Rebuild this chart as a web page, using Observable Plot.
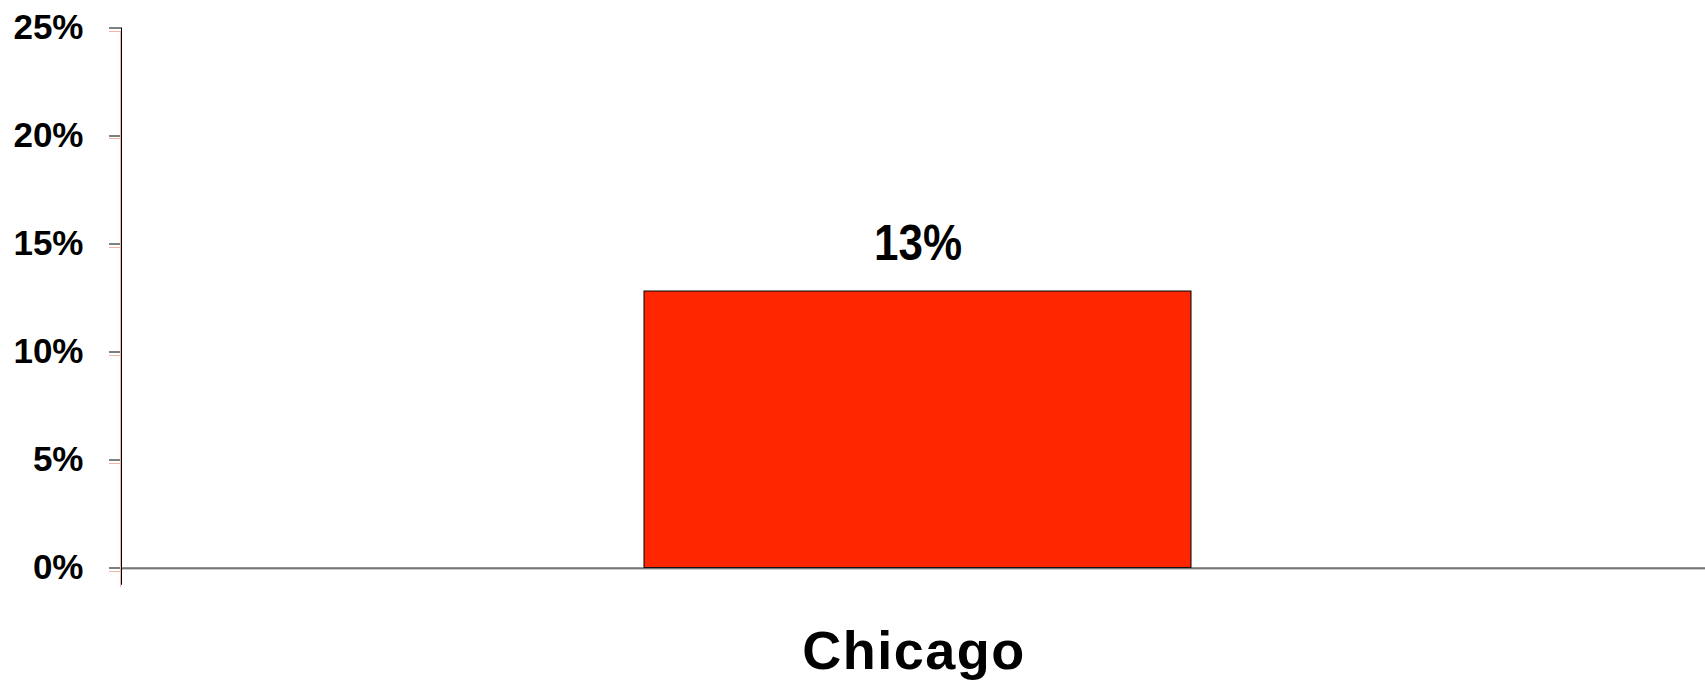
<!DOCTYPE html>
<html>
<head>
<meta charset="utf-8">
<script src="https://cdn.jsdelivr.net/npm/d3@7"></script>
<script src="https://cdn.jsdelivr.net/npm/@observablehq/plot@0.6"></script>
<style>
  html, body { margin: 0; padding: 0; background: #fff; }
  #chart svg { display: block; }
  #chart [aria-label="x-axis tick label"] text { letter-spacing: 1.5px; }
</style>
</head>
<body>
<div id="chart"></div>
<script>
// Share of respondents by city
const categories = ["Chicago"];
const shares = [0.128];
const yTicks = [0, 0.05, 0.10, 0.15, 0.20, 0.25];

const rows = categories.map((city, i) => ({city, share: shares[i]}));
const pct = d3.format(".0%");
const font = "'Liberation Sans', Arial, sans-serif";

// Vertical axis line plus its faint red shadow and tick shadows
function axisDecor(index, scales, values, dims) {
  const g = d3.create("svg:g");
  const x0 = dims.marginLeft;
  const yTop = scales.y(0.25);
  const yBot = scales.y(-0.008);
  g.append("line")
    .attr("x1", x0 - 0.5).attr("x2", x0 - 0.5)
    .attr("y1", yTop + 3).attr("y2", yBot + 2)
    .attr("stroke", "#f2b5a8").attr("stroke-width", 1);
  for (const t of yTicks) {
    const y = Math.round(scales.y(t)) + 3.5;
    g.append("line")
      .attr("x1", x0 - 12).attr("x2", x0)
      .attr("y1", y).attr("y2", y)
      .attr("stroke", "#f2b5a8").attr("stroke-width", 1);
  }
  g.append("line")
    .attr("x1", x0 + 0.5).attr("x2", x0 + 0.5)
    .attr("y1", yTop).attr("y2", yBot)
    .attr("stroke", "#000").attr("stroke-width", 1);
  return g.node();
}

const chart = Plot.plot({
  width: 1705,
  height: 681,
  marginLeft: 121,
  marginRight: 0,
  marginTop: 27.5,
  marginBottom: 113.5,
  style: {fontFamily: font, color: "#000", background: "#fff"},
  x: {domain: categories, padding: 0.486, align: 0.505, label: null},
  y: {domain: [0, 0.25], label: null},
  marks: [
    Plot.barY(rows, {x: "city", y: "share", fill: "#ff2600", stroke: "#000", strokeWidth: 1}),
    Plot.ruleY([0], {stroke: "#999", strokeWidth: 1, dy: 1}),
    Plot.ruleY([0], {stroke: "#222", strokeWidth: 1}),
    Plot.text(rows, {
      x: "city", y: "share", text: d => pct(d.share),
      dy: -48, fontSize: 50, fontWeight: "bold", fill: "#000",
      className: "value-label"
    }),
    Plot.axisY({
      ticks: yTicks, tickFormat: pct, tickSize: 12, tickPadding: 26,
      fontSize: 35, fontWeight: "bold", stroke: "#000", strokeOpacity: 1, label: null
    }),
    Plot.axisX({
      tickSize: 0, tickPadding: 62.5, dx: -4, fontSize: 54, fontWeight: "bold", label: null
    }),
    axisDecor
  ]
});

// The value label is set in a condensed width
d3.select(chart).selectAll(".value-label text")
  .attr("textLength", 88)
  .attr("lengthAdjust", "spacingAndGlyphs");

document.getElementById("chart").appendChild(chart);
</script>
</body>
</html>
